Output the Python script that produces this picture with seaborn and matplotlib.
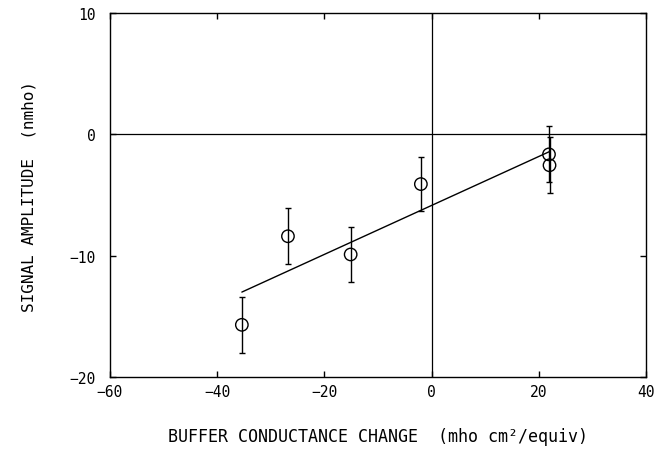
import numpy as np
import pandas as pd
import matplotlib
matplotlib.use("Agg")
import matplotlib.pyplot as plt
import seaborn as sns

# Data
buffer_change = [-35.4, -26.8, -15.1, -2.0, 21.9, 22.0]
signal_amp = [-15.7, -8.4, -9.9, -4.1, -1.65, -2.55]
signal_err = [2.3, 2.3, 2.3, 2.25, 2.3, 2.3]

x_ticks = [-60, -40, -20, 0, 20, 40]
y_ticks = [-20, -10, 0, 10]

df = pd.DataFrame({"x": buffer_change, "y": signal_amp, "err": signal_err})

sns.set_theme(style="ticks")
plt.rcParams["font.family"] = ["DejaVu Sans Mono", "DejaVu Sans"]

fig = plt.figure(figsize=(6.55, 4.64), dpi=100)
ax = fig.add_axes([110 / 655, 1 - 378 / 464, (646 - 110) / 655, (378 - 14) / 464])

ax.axhline(0, color="black", lw=0.9, zorder=1)
ax.axvline(0, color="black", lw=0.9, zorder=1)

sns.regplot(data=df, x="x", y="y", ci=None, scatter=False, truncate=True,
            line_kws=dict(color="black", lw=1.0), ax=ax)

ax.errorbar(df["x"], df["y"], yerr=df["err"], fmt="none", ecolor="black",
            elinewidth=1.0, capsize=2.5, capthick=1.0, zorder=3)
sns.scatterplot(data=df, x="x", y="y", ax=ax, marker="o", s=80,
                facecolor="none", edgecolor="black", linewidth=1.0, zorder=4)

ax.set_xlim(-60, 40)
ax.set_ylim(-20, 10)
ax.set_xticks(x_ticks)
ax.set_yticks(y_ticks)
ax.set_xticklabels(["\u2212" + str(-t) if t < 0 else str(t) for t in x_ticks])
ax.set_yticklabels(["\u2212" + str(-t) if t < 0 else str(t) for t in y_ticks])
ax.tick_params(direction="in", length=4, width=1, top=True, right=True,
               labelsize=10.5, colors="black")
ax.tick_params(axis="x", pad=5)
ax.tick_params(axis="y", pad=10)

for s in ax.spines.values():
    s.set_color("black")
    s.set_linewidth(1.0)

ax.set_xlabel("BUFFER CONDUCTANCE CHANGE  (mho cm\u00b2/equiv)", fontsize=12,
              labelpad=20, color="black")
ax.set_ylabel("SIGNAL AMPLITUDE  (nmho)", fontsize=11.5, labelpad=24, color="black")

fig.savefig("out.png", dpi=100)
